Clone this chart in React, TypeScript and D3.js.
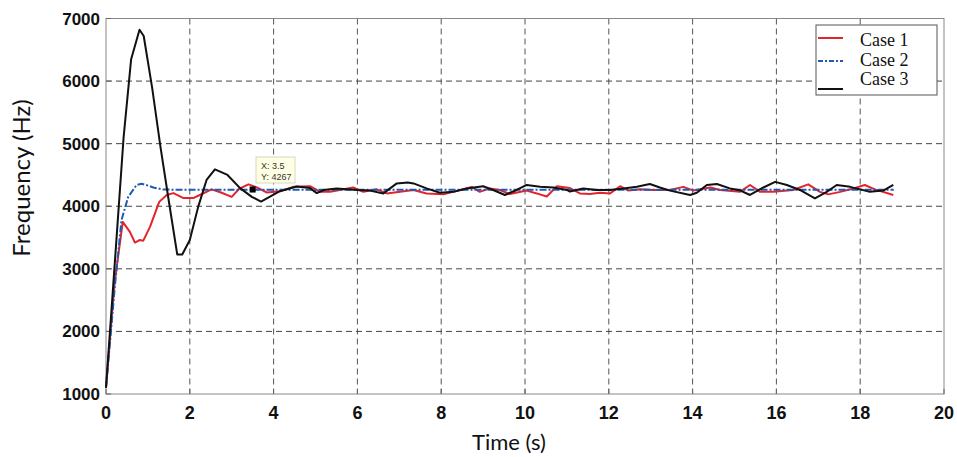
import React from 'react';
import * as d3 from 'd3';

const W = 957;
const H = 457;

const xTicks = [0, 2, 4, 6, 8, 10, 12, 14, 16, 18, 20];
const yTicks = [1000, 2000, 3000, 4000, 5000, 6000, 7000];

// [time (s), frequency (Hz)]
const case1: [number, number][] = [
  [0, 1100], [0.2, 2750], [0.4, 3750], [0.57, 3590], [0.69, 3420], [0.8, 3460], [0.89, 3450],
  [1.05, 3670], [1.27, 4070], [1.45, 4180], [1.61, 4210], [1.85, 4130], [2.08, 4130], [2.24, 4180],
  [2.52, 4270], [2.76, 4215], [3.0, 4150], [3.18, 4280], [3.4, 4350], [3.6, 4300], [3.84, 4220],
  [4.15, 4240], [4.47, 4310], [4.87, 4320], [5.11, 4230], [5.35, 4230], [5.9, 4300], [6.14, 4230],
  [6.46, 4270], [6.7, 4205], [7.02, 4230], [7.34, 4260], [7.65, 4205], [8.05, 4190], [8.45, 4260],
  [8.73, 4310], [8.92, 4230], [9.16, 4285], [9.4, 4260], [9.64, 4195], [10.04, 4250], [10.28, 4205],
  [10.52, 4155], [10.76, 4320], [11.07, 4290], [11.31, 4205], [11.55, 4195], [11.79, 4215],
  [12.03, 4205], [12.27, 4320], [12.47, 4250], [12.74, 4270], [13.06, 4260], [13.46, 4260],
  [13.78, 4310], [14.02, 4250], [14.42, 4300], [14.66, 4260], [15.13, 4230], [15.37, 4340],
  [15.61, 4230], [15.93, 4230], [16.4, 4260], [16.76, 4350], [17.04, 4230], [17.24, 4190],
  [17.52, 4230], [17.84, 4285], [18.11, 4340], [18.35, 4270], [18.79, 4180],
];

const case2: [number, number][] = [
  [0, 1100], [0.21, 2710], [0.37, 3780], [0.53, 4150], [0.73, 4340], [0.85, 4360], [1.0, 4330],
  [1.13, 4300], [1.37, 4267], [2, 4262], [5, 4262], [10, 4262], [15, 4262], [18.8, 4262],
];

const case3: [number, number][] = [
  [0, 1100], [0.2, 3000], [0.42, 5100], [0.6, 6350], [0.8, 6820], [0.9, 6720], [1.1, 5900],
  [1.3, 4950], [1.5, 4080], [1.7, 3230], [1.82, 3230], [2.0, 3460], [2.2, 3990], [2.4, 4420],
  [2.6, 4590], [2.9, 4500], [3.2, 4290], [3.48, 4150], [3.7, 4075], [4.15, 4240], [4.55, 4315],
  [4.87, 4290], [5.03, 4210], [5.2, 4260], [5.5, 4285], [6.0, 4260], [6.3, 4250], [6.62, 4205],
  [6.94, 4365], [7.2, 4380], [7.34, 4365], [7.65, 4285], [7.97, 4215], [8.29, 4230], [8.61, 4285],
  [9.0, 4320], [9.24, 4260], [9.52, 4180], [9.8, 4260], [10.04, 4340], [10.36, 4310], [10.68, 4300],
  [11.0, 4260], [11.07, 4235], [11.39, 4285], [11.71, 4260], [12.03, 4260], [12.35, 4285],
  [12.67, 4310], [12.98, 4355], [13.22, 4300], [13.46, 4250], [13.94, 4180], [14.1, 4215],
  [14.34, 4340], [14.58, 4355], [14.89, 4285], [15.13, 4255], [15.37, 4180], [15.69, 4300],
  [15.97, 4390], [16.25, 4340], [16.56, 4260], [16.92, 4125], [17.2, 4230], [17.44, 4340],
  [17.76, 4310], [18.0, 4270], [18.23, 4230], [18.55, 4250], [18.79, 4340],
];

const legendNames = ['Case 1', 'Case 2', 'Case 3'];
const marker = { t: 3.5, f: 4267 };

export default function App() {
  const x = d3.scaleLinear().domain([0, 20]).range([106, 944]);
  const y = d3.scaleLinear().domain([1000, 7000]).range([394, 18.5]);
  const line = d3.line<[number, number]>().x(d => x(d[0])).y(d => y(d[1]));

  const series = [
    { data: case1, color: '#e3242b', dash: undefined },
    { data: case2, color: '#1f5bb5', dash: '7,2,2,2' },
    { data: case3, color: '#111111', dash: undefined },
  ];

  const mx = x(marker.t);
  const my = y(marker.f);

  return (
    <svg width={W} height={H} style={{ position: 'absolute', left: 0, top: 0, background: '#fff' }}>
      {/* grid */}
      {xTicks.slice(1, -1).map(t => (
        <line key={'gx' + t} x1={x(t)} x2={x(t)} y1={y(7000)} y2={y(1000)}
          stroke="#555" strokeWidth={1} strokeDasharray="6,4" />
      ))}
      {yTicks.slice(1, -1).map(v => (
        <line key={'gy' + v} x1={x(0)} x2={x(20)} y1={y(v)} y2={y(v)}
          stroke="#444" strokeWidth={1} strokeDasharray="6,4" />
      ))}

      {/* frame */}
      <rect x={x(0)} y={y(7000)} width={x(20) - x(0)} height={y(1000) - y(7000)}
        fill="none" stroke="#888" strokeWidth={1} />
      {xTicks.map(t => (
        <line key={'tx' + t} x1={x(t)} x2={x(t)} y1={y(1000)} y2={y(1000) - 5} stroke="#666" />
      ))}
      {yTicks.map(v => (
        <line key={'ty' + v} x1={x(0)} x2={x(0) + 5} y1={y(v)} y2={y(v)} stroke="#666" />
      ))}

      {/* tick labels */}
      {xTicks.map(t => (
        <text key={'lx' + t} x={x(t)} y={419} textAnchor="middle"
          fontFamily="'Liberation Sans Narrow', 'Arial Narrow', 'Liberation Sans', sans-serif"
          fontWeight="bold" fontSize={18} fill="#111">{t}</text>
      ))}
      {yTicks.map(v => (
        <text key={'ly' + v} x={100} y={y(v) + 6} textAnchor="end"
          fontFamily="'Liberation Sans', Arial, sans-serif" fontWeight="bold" fontSize={17} fill="#111">{v}</text>
      ))}

      {/* axis titles */}
      <text x={0} y={0} transform="translate(30,178) rotate(-90)" textAnchor="middle"
        fontFamily="Lato, 'Open Sans', sans-serif" fontSize={24} fill="#111">Frequency (Hz)</text>
      <text x={509} y={450} textAnchor="middle"
        fontFamily="Lato, 'Open Sans', sans-serif" fontSize={22} fill="#111">Time (s)</text>

      {/* series */}
      {series.map((s, i) => (
        <path key={'s' + i} d={line(s.data) || ''} fill="none" stroke={s.color}
          strokeWidth={2} strokeDasharray={s.dash} strokeLinejoin="round" />
      ))}

      {/* data tip */}
      <rect x={mx - 3} y={my - 3} width={6} height={6} fill="#000" />
      <rect x={256} y={157} width={39} height={26} fill="#ffffe4" stroke="#d8d8c0" />
      <text x={261} y={169} fontFamily="'Liberation Sans', Arial, sans-serif" fontSize={9} fill="#333">X: {marker.t}</text>
      <text x={261} y={180} fontFamily="'Liberation Sans', Arial, sans-serif" fontSize={9} fill="#333">Y: {marker.f}</text>

      {/* legend */}
      <rect x={816} y={25} width={121} height={70} fill="#fff" stroke="#555" strokeWidth={1} />
      {series.map((s, i) => (
        <line key={'ll' + i} x1={818} x2={843} y1={[38, 61, 89][i]} y2={[38, 61, 89][i]}
          stroke={s.color} strokeWidth={2} strokeDasharray={s.dash ? '5,2,2,2' : undefined} />
      ))}
      {legendNames.map((n, i) => (
        <text key={'ln' + i} x={860} y={46 + i * 19.5}
          fontFamily="'Liberation Serif', 'Times New Roman', serif" fontSize={18} fill="#111">{n}</text>
      ))}
    </svg>
  );
}
